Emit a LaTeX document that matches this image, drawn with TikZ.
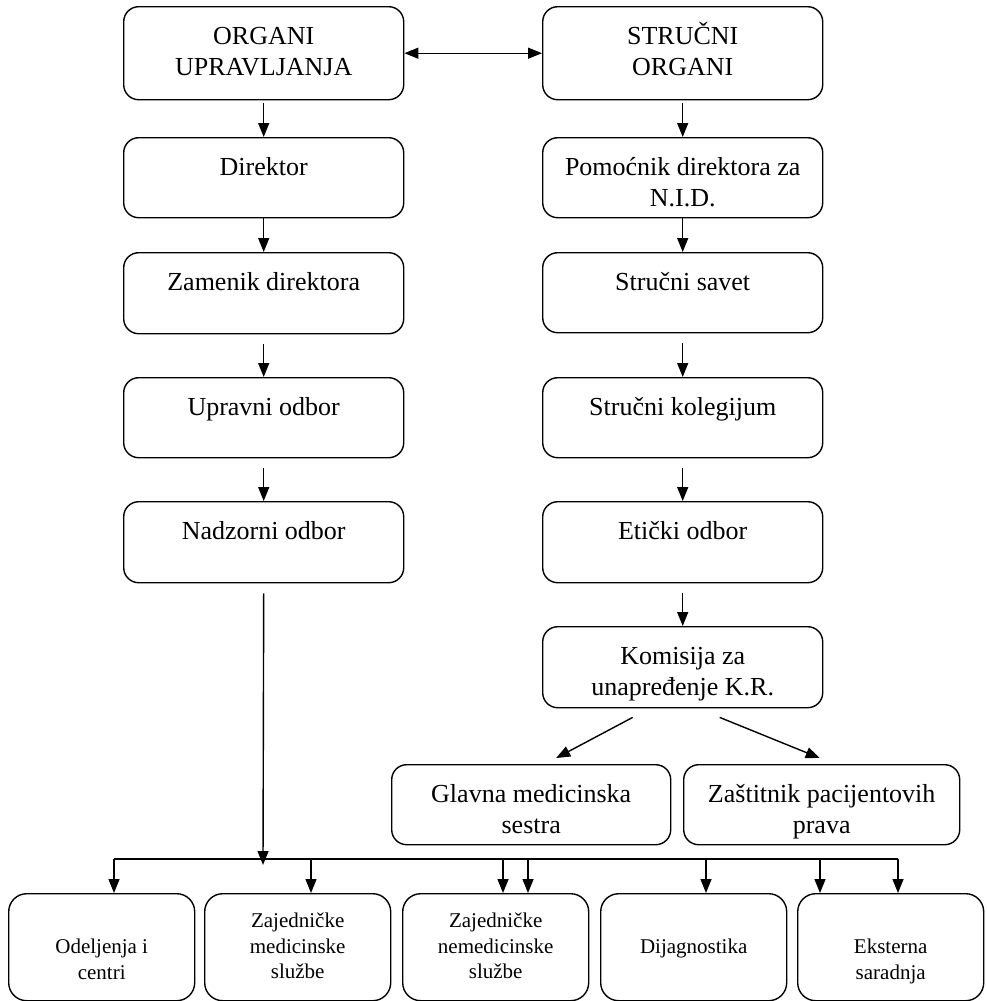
\documentclass[tikz,border=0pt]{standalone}
\usepackage{fontspec}
\setmainfont{Liberation Serif}
\usetikzlibrary{arrows.meta}
\newcommand{\tbx}[4]{\parbox[b][#2][t]{#1}{\centering\rule{0pt}{#3}#4\par}}
\newcommand{\tb}[3]{\tbx{#1}{#2}{38pt}{#3}}
\tikzset{
  ubox/.style={draw, line width=1.4pt, rounded corners=15pt, inner sep=0pt, anchor=north west, font=\fontsize{26}{30.5}\selectfont},
  lbox/.style={draw, line width=1.4pt, rounded corners=18pt, inner sep=0pt, anchor=north west, font=\fontsize{21}{25.5}\selectfont},
  arr/.style={line width=1.4pt, -{Triangle[length=14pt,width=11pt]}},
  biarr/.style={line width=1.4pt, {Triangle[length=14pt,width=11pt]}-{Triangle[length=14pt,width=11pt]}},
  conn/.style={line width=1.4pt}
}
\begin{document}
\begin{tikzpicture}[x=1pt,y=-1pt]
\useasboundingbox (0,0) rectangle (986,1001);
% left column
\node[ubox] (ou) at (123,6) {\tb{280pt}{93pt}{ORGANI\\UPRAVLJANJA}};
\node[ubox] (dir) at (123,137) {\tb{280pt}{80pt}{Direktor}};
\node[ubox] (zam) at (123,252) {\tb{280pt}{81pt}{Zamenik direktora}};
\node[ubox] (upr) at (123,377) {\tb{280pt}{80pt}{Upravni odbor}};
\node[ubox] (nad) at (123,501) {\tb{280pt}{81pt}{Nadzorni odbor}};
% right column
\node[ubox] (so) at (542,6) {\tb{280pt}{93pt}{STRUČNI\\ORGANI}};
\node[ubox] (pom) at (542,137) {\tb{280pt}{80pt}{Pomoćnik direktora za\\N.I.D.}};
\node[ubox] (ss) at (542,252) {\tb{280pt}{80pt}{Stručni savet}};
\node[ubox] (sk) at (542,377) {\tb{280pt}{80pt}{Stručni kolegijum}};
\node[ubox] (eo) at (542,501) {\tb{280pt}{81pt}{Etički odbor}};
\node[ubox] (kom) at (542,626) {\tb{280pt}{81pt}{Komisija za\\unapređenje K.R.}};
\node[ubox] (gl) at (391,764) {\tb{279pt}{80pt}{Glavna medicinska\\sestra}};
\node[ubox] (za) at (683,764) {\tb{276pt}{80pt}{Zaštitnik pacijentovih\\prava}};
% bottom row
\node[lbox] (b1) at (8,893) {\tbx{186pt}{107pt}{60pt}{Odeljenja i\\centri}};
\node[lbox] (b2) at (204,893) {\tbx{186pt}{107pt}{34pt}{Zajedničke\\medicinske\\službe}};
\node[lbox] (b3) at (402,893) {\tbx{186pt}{107pt}{34pt}{Zajedničke\\nemedicinske\\službe}};
\node[lbox] (b4) at (600,893) {\tbx{186pt}{107pt}{60pt}{Dijagnostika}};
\node[lbox] (b5) at (797,893) {\tbx{186pt}{107pt}{60pt}{Eksterna\\saradnja}};
% connectors
\draw[biarr] (ou.east) -- (so.west);
\draw[arr] ([yshift=-3pt]ou.south) -- (dir.north);
\draw[arr] (dir.south) -- (zam.north);
\draw[arr] ([yshift=-10pt]zam.south) -- (upr.north);
\draw[arr] ([yshift=-10pt]upr.south) -- (nad.north);
\draw[arr] ([yshift=-3pt]so.south) -- (pom.north);
\draw[arr] (pom.south) -- (ss.north);
\draw[arr] ([yshift=-10pt]ss.south) -- (sk.north);
\draw[arr] ([yshift=-10pt]sk.south) -- (eo.north);
\draw[arr] ([yshift=-10pt]eo.south) -- (kom.north);
\draw[arr] ([xshift=-50pt,yshift=-9pt]kom.south) -- ([xshift=25pt,yshift=6pt]gl.north);
\draw[arr] ([xshift=37pt,yshift=-9pt]kom.south) -- ([xshift=-2pt,yshift=6pt]za.north);
% bus
\coordinate (busend) at (263,865);
\draw[arr] ([yshift=-10pt]nad.south) -- (busend);
\coordinate (t1) at (114,859);
\coordinate (t2) at (311,859);
\coordinate (t3) at (503,859);
\coordinate (t4) at (528,859);
\coordinate (t5) at (706,859);
\coordinate (t6) at (820,859);
\coordinate (t7) at (898,859);
\draw[conn] (t1) -- (t7);
\draw[arr] (t1) -- (t1 |- b1.north);
\draw[arr] (t2) -- (t2 |- b2.north);
\draw[arr] (t3) -- (t3 |- b3.north);
\draw[arr] (t4) -- (t4 |- b3.north);
\draw[arr] (t5) -- (t5 |- b4.north);
\draw[arr] (t6) -- (t6 |- b5.north);
\draw[arr] (t7) -- (t7 |- b5.north);
\end{tikzpicture}
\end{document}
